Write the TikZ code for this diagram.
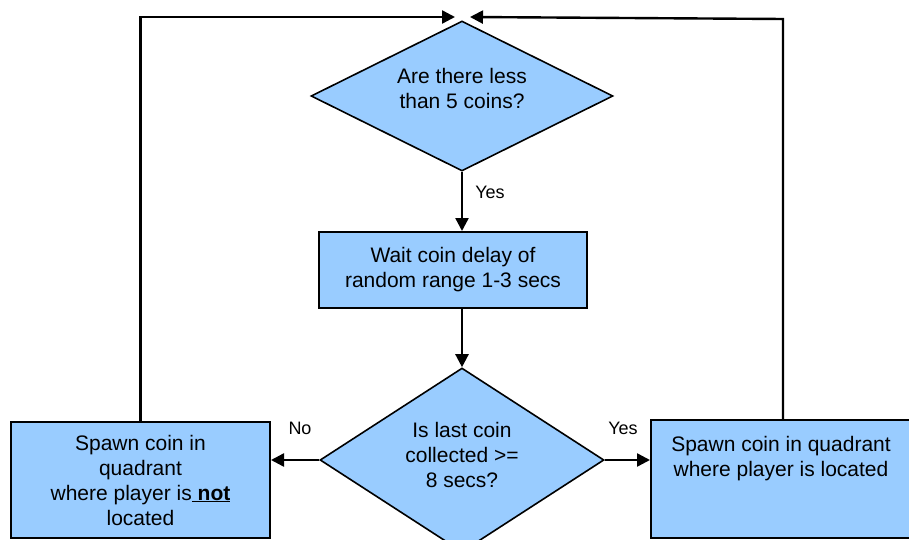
\documentclass[tikz,border=0pt]{standalone}
\usepackage{fontspec}
\setmainfont{Liberation Sans}
\usetikzlibrary{shapes.geometric,arrows.meta}
\definecolor{boxblue}{HTML}{99CCFF}
\begin{document}
\begin{tikzpicture}[x=1pt,y=-1pt,
  every node/.style={font=\fontsize{21}{25}\selectfont},
  every label/.style={align=center,font=\fontsize{21}{25}\selectfont},
  decision/.style={diamond,draw=black,line width=1.6pt,fill=boxblue,inner sep=0pt},
  stepbox/.style={rectangle,draw=black,line width=2pt,fill=boxblue,inner sep=0pt,align=center},
  flow/.style={line width=2.4pt,-{Triangle[length=13pt,width=13pt]}},
  tag/.style={font=\fontsize{18}{20}\selectfont}]
  \useasboundingbox (0,0) rectangle (909,540);
  \clip (0,0) rectangle (909,540);

  % decisions (fixed outline, text laid over the centre)
  \node[decision,minimum width=302pt,minimum height=150pt,
        label={[yshift=8pt]center:Are there less\\than 5 coins?}] (q1) at (462,96) {};
  \node[decision,minimum width=284pt,minimum height=184pt,
        label={[yshift=5pt]center:Is last coin\\collected >=\\8 secs?}] (q2) at (462,460) {};

  % process steps
  \node[stepbox,minimum width=268pt,minimum height=76pt] (wait) at (453,270)
    {Wait coin delay of\\random range 1-3 secs};
  \node[stepbox,minimum width=259pt,minimum height=116pt] (lbox) at (140.5,480)
    {Spawn coin in\\quadrant\\where player is\underline{ \textbf{not}}\\located};
  \node[stepbox,minimum width=260pt,minimum height=118pt] (rbox) at (781,479) {};
  \node[anchor=north,align=center] (rtext) at ([yshift=-14pt]rbox.north)
    {Spawn coin in quadrant\\where player is located};

  % loop-back targets above the first decision
  \coordinate (tl) at (455,17);
  \coordinate (tr) at (470,17);

  % connectors
  \draw[flow] (q1.south) -- (q1.south |- wait.north);
  \draw[flow] (q2.north |- wait.south) -- (q2.north);
  \draw[flow] (q2.west) -- (q2.west -| lbox.east);
  \draw[flow] (q2.east) -- (q2.east -| rbox.west);
  \draw[flow] (lbox.north) |- (tl);
  \draw[flow] ([xshift=2pt]rbox.north) -- ++(0,-400) -- (tr);

  % branch labels
  \node[tag] (y1) at (490,192) {Yes};
  \node[tag] (n2) at (300,428) {No};
  \node[tag] (y2) at (623,428) {Yes};
\end{tikzpicture}
\end{document}
